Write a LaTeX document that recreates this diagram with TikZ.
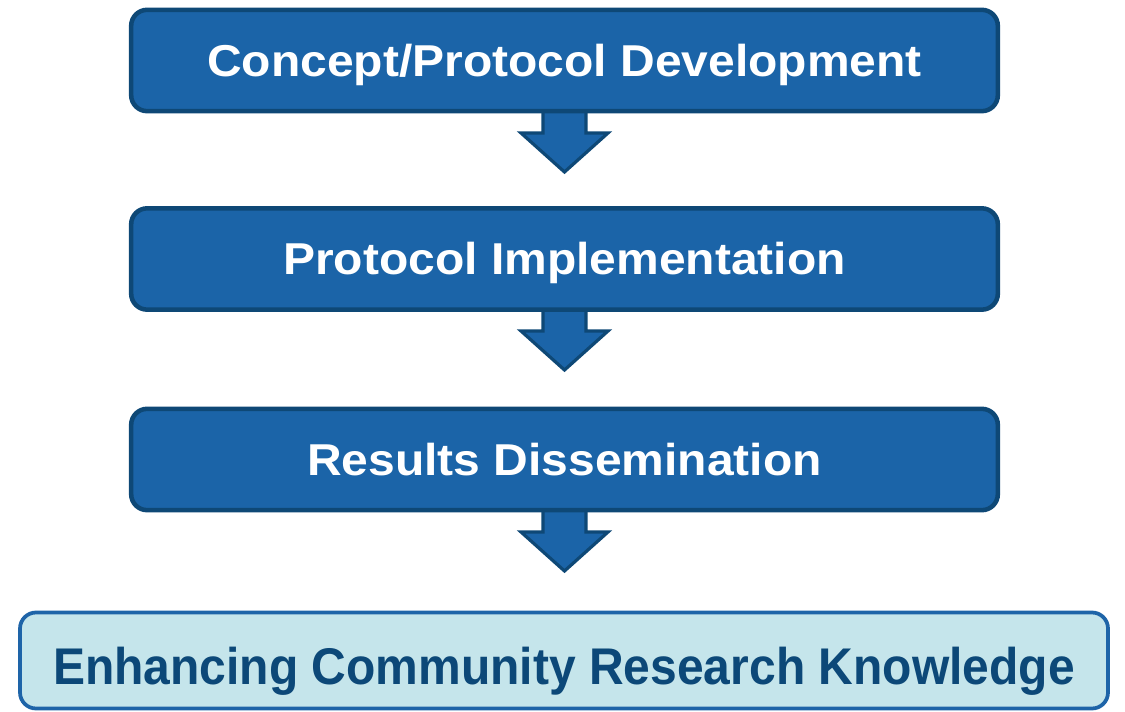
\documentclass[tikz,border=0pt]{standalone}
\usepackage{fontspec}
\setmainfont{Liberation Sans}
\usetikzlibrary{calc}
\definecolor{boxfill}{RGB}{27,100,168}
\definecolor{boxline}{RGB}{14,72,118}
\definecolor{endfill}{RGB}{197,229,235}
\definecolor{endline}{RGB}{30,100,168}
\definecolor{endtext}{RGB}{12,72,120}
\newcommand{\squash}[1]{\scalebox{1}[0.93]{#1}}
\newcommand{\stretchy}[1]{\scalebox{1}[1.075]{#1}}
\begin{document}
\begin{tikzpicture}[x=0.75pt,y=-0.75pt,
  stepbox/.style={draw=boxline,fill=boxfill,line width=3.4pt,rounded corners=12pt,
    minimum width=650pt,minimum height=76pt,inner sep=0pt,text=white,
    text height=24pt,text depth=0pt,
    font=\bfseries\fontsize{36}{40}\selectfont},
  endbox/.style={draw=endline,fill=endfill,line width=2.8pt,rounded corners=12pt,
    minimum width=816pt,minimum height=72pt,inner sep=0pt,text=endtext,
    text height=35.25pt,text depth=0pt,
    font=\bfseries\fontsize{36}{40}\selectfont},
  downarrow/.style={draw=boxline,fill=boxfill,line width=2.4pt,line join=miter}]
\useasboundingbox (0,0) rectangle (1125,712);
\coordinate (c1) at (564.5,60.5);
\coordinate (c2) at (564.5,259);
\coordinate (c3) at (564.5,459.5);
\coordinate (c4) at (564,660.5);
% arrows (drawn first, boxes overlap their tops)
\foreach \n/\y in {1/113,2/311,3/512}{
  \draw[downarrow] (543,\y-4) -- (586,\y-4) -- (586,\y+20) -- (608,\y+20) -- (564.5,\y+59)
    -- (521,\y+20) -- (543,\y+20) -- cycle;
}
\node[stepbox] (b1) at (c1) {\squash{Concept/Protocol Development}};
\node[stepbox] (b2) at (c2) {\squash{Protocol Implementation}};
\node[stepbox] (b3) at (c3) {\squash{Results Dissemination}};
\node[endbox] (b4) at (c4) {\stretchy{Enhancing Community Research Knowledge}};
\end{tikzpicture}
\end{document}
